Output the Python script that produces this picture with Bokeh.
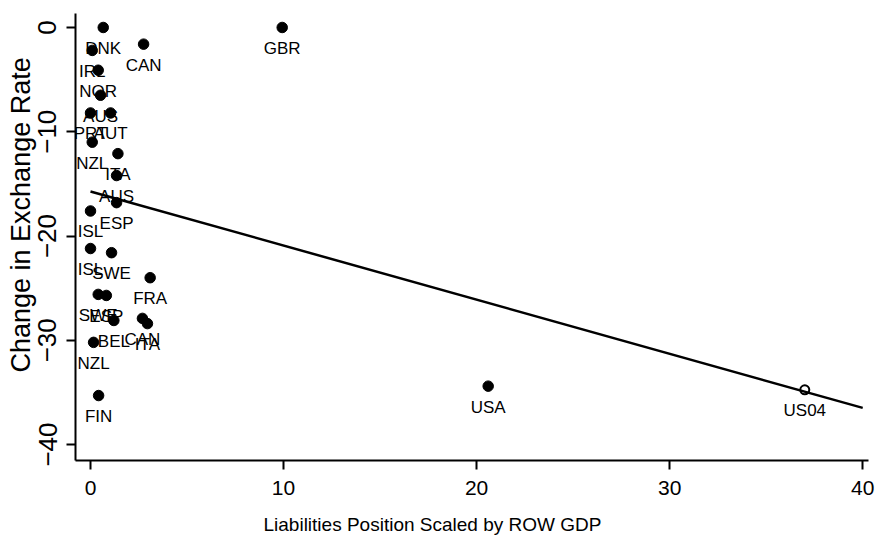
import numpy as np
from bokeh.plotting import figure
from bokeh.models import Range1d, FixedTicker, ColumnDataSource, Title
from bokeh.core.properties import value
from bokeh.embed import file_html
from bokeh.resources import INLINE

# Observations (filled markers)
countries = ["DNK", "CAN", "GBR", "IRL", "NOR", "AUS", "PRT", "AUT", "NZL", "ITA",
             "AUS", "ESP", "ISL", "ISL", "SWE", "FRA", "SWE", "ESP", "BEL", "CAN",
             "ITA", "NZL", "FIN", "USA"]
liabilities = [0.66, 2.75, 9.93, 0.09, 0.40, 0.52, 0.00, 1.04, 0.09, 1.42,
               1.35, 1.35, 0.00, 0.00, 1.09, 3.09, 0.40, 0.82, 1.21, 2.69,
               2.95, 0.16, 0.42, 20.6]
fx_change = [0.0, -1.6, 0.0, -2.2, -4.1, -6.5, -8.2, -8.2, -11.0, -12.1,
             -14.2, -16.8, -17.6, -21.2, -21.6, -24.0, -25.6, -25.7, -28.1, -27.9,
             -28.4, -30.2, -35.3, -34.4]

# Out-of-sample point (hollow marker)
oos_label = ["US04"]
oos_liabilities = [37.0]
oos_fx_change = [-34.75]

x_ticks = [0, 10, 20, 30, 40]
y_ticks = [0, -10, -20, -30, -40]
fit_range = [0, 40]

x_title = "Liabilities Position Scaled by ROW GDP"
y_title = "Change in Exchange Rate"

FONT = "Liberation Sans"

slope, intercept = np.polyfit(liabilities, fx_change, 1)
fit_x = np.array(fit_range, dtype=float)
fit_y = intercept + slope * fit_x

p = figure(width=876, height=552, output_backend="svg", toolbar_location=None,
           x_range=Range1d(-0.777, 40.3), y_range=Range1d(-41.53, 1.34),
           min_border_left=75, min_border_right=8, min_border_top=13, min_border_bottom=92)
p.outline_line_color = None
p.background_fill_color = "white"
p.border_fill_color = "white"
p.xgrid.visible = False
p.ygrid.visible = False

obs = ColumnDataSource(dict(x=liabilities, y=fx_change, lab=countries))
oos = ColumnDataSource(dict(x=oos_liabilities, y=oos_fx_change, lab=oos_label))

p.line(fit_x, fit_y, line_color="black", line_width=2.5)
p.scatter("x", "y", source=obs, size=10.5, fill_color="black", line_color="black")
p.scatter("x", "y", source=oos, size=9, fill_color=None, line_color="black", line_width=2)

for src in (obs, oos):
    p.text("x", "y", text="lab", source=src, text_align="center", text_baseline="middle",
           y_offset=21, text_font=value(FONT), text_font_size="17px", text_color="black")

xa = p.xaxis[0]
xa.ticker = FixedTicker(ticks=x_ticks)
xa.axis_line_width = 2
xa.major_tick_line_width = 2
xa.major_tick_out = 9
xa.major_tick_in = 0
xa.minor_tick_out = 0
xa.minor_tick_in = 0
xa.major_label_standoff = 11
xa.major_label_text_font = FONT
xa.major_label_text_font_size = "21px"
xa.major_label_text_color = "black"

ya = p.yaxis[0]
ya.ticker = FixedTicker(ticks=y_ticks)
ya.axis_line_width = 2
ya.major_tick_line_width = 2
ya.major_tick_out = 9
ya.major_tick_in = 0
ya.minor_tick_out = 0
ya.minor_tick_in = 0
ya.major_label_orientation = "vertical"
ya.major_label_standoff = 10
ya.major_label_text_font = FONT
ya.major_label_text_font_size = "26px"
ya.major_label_text_color = "black"

p.add_layout(Title(text=x_title, align="left", offset=188, standoff=28,
                   text_font=FONT, text_font_size="19px", text_font_style="normal",
                   text_color="black"), "below")
p.add_layout(Title(text=y_title, align="left", offset=88, standoff=0,
                   text_font=FONT, text_font_size="27px", text_font_style="normal",
                   text_color="black"), "left")

open("out.html", "w").write(file_html(p, INLINE))
